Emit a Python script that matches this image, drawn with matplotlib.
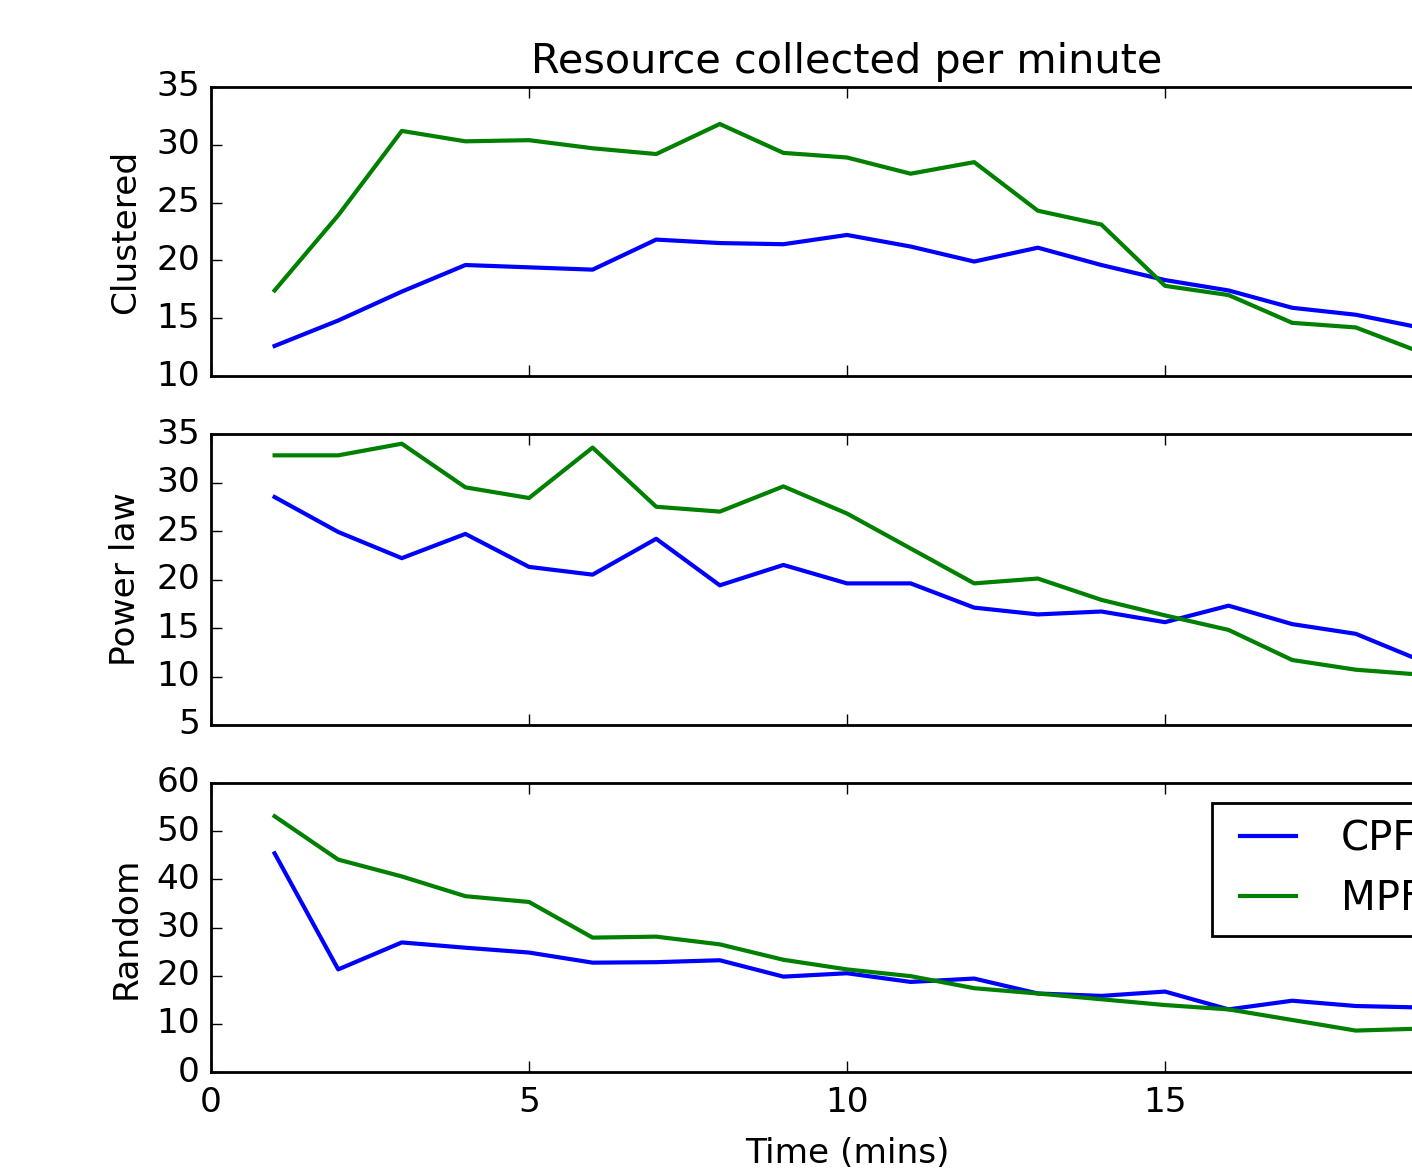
import matplotlib
matplotlib.use("Agg")
import matplotlib.pyplot as plt

plt.style.use("classic")
plt.rcParams["font.size"] = 12.4
plt.rcParams["xtick.major.pad"] = 5

minutes = list(range(1, 20))

clustered_cpfa = [12.6, 14.8, 17.3, 19.6, 19.4, 19.2, 21.8, 21.5, 21.4, 22.2,
                  21.2, 19.9, 21.1, 19.6, 18.3, 17.4, 15.9, 15.3, 14.2]
clustered_mpfa = [17.4, 23.9, 31.2, 30.3, 30.4, 29.7, 29.2, 31.8, 29.3, 28.9,
                  27.5, 28.5, 24.3, 23.1, 17.8, 17.0, 14.6, 14.2, 12.1]

powerlaw_cpfa = [28.5, 24.9, 22.2, 24.7, 21.3, 20.5, 24.2, 19.4, 21.5, 19.6,
                 19.6, 17.1, 16.4, 16.7, 15.6, 17.3, 15.4, 14.4, 11.7]
powerlaw_mpfa = [32.8, 32.8, 34.0, 29.5, 28.4, 33.6, 27.5, 27.0, 29.6, 26.8,
                 23.2, 19.6, 20.1, 17.9, 16.3, 14.8, 11.7, 10.7, 10.2]

random_cpfa = [45.4, 21.3, 26.9, 25.8, 24.8, 22.7, 22.8, 23.2, 19.8, 20.5,
               18.7, 19.4, 16.3, 15.8, 16.7, 13.0, 14.8, 13.7, 13.4]
random_mpfa = [53.1, 44.1, 40.6, 36.5, 35.3, 27.9, 28.1, 26.5, 23.3, 21.3,
               19.9, 17.4, 16.3, 15.1, 13.9, 13.0, 10.8, 8.6, 9.0]

panel_names = ["Clustered", "Power law", "Random"]
panel_ylims = [(10, 35), (5, 35), (0, 60)]
panel_data = [
    (clustered_cpfa, clustered_mpfa),
    (powerlaw_cpfa, powerlaw_mpfa),
    (random_cpfa, random_mpfa),
]

W, H = 1412, 1172
fig = plt.figure(figsize=(W / 200, H / 200), facecolor="white")

# pixel boxes of the three panels (top, bottom); axes run past the right edge
boxes = [(87, 376), (434, 725), (783, 1072)]
left_px, width_px = 211, 1272

axes = []
for (top, bot), name, ylim, (cpfa, mpfa) in zip(boxes, panel_names, panel_ylims, panel_data):
    ax = fig.add_axes([left_px / W, 1 - bot / H, width_px / W, (bot - top) / H])
    ax.plot(minutes, cpfa, color="b", lw=1.5, label="CPFA")
    ax.plot(minutes, mpfa, color="g", lw=1.5, label="MPFA")
    ax.set_xlim(0, 20)
    ax.set_ylim(*ylim)
    ax.set_xticks([0, 5, 10, 15, 20])
    ax.set_ylabel(name)
    axes.append(ax)

axes[0].set_title("Resource collected per minute", pad=5)
for ax in axes[:2]:
    ax.tick_params(labelbottom=False)
axes[2].set_xlabel("Time (mins)", labelpad=6.5)
axes[2].legend(loc="upper right", fontsize=14.5)

fig.savefig("out.png", dpi=200, facecolor="white")
